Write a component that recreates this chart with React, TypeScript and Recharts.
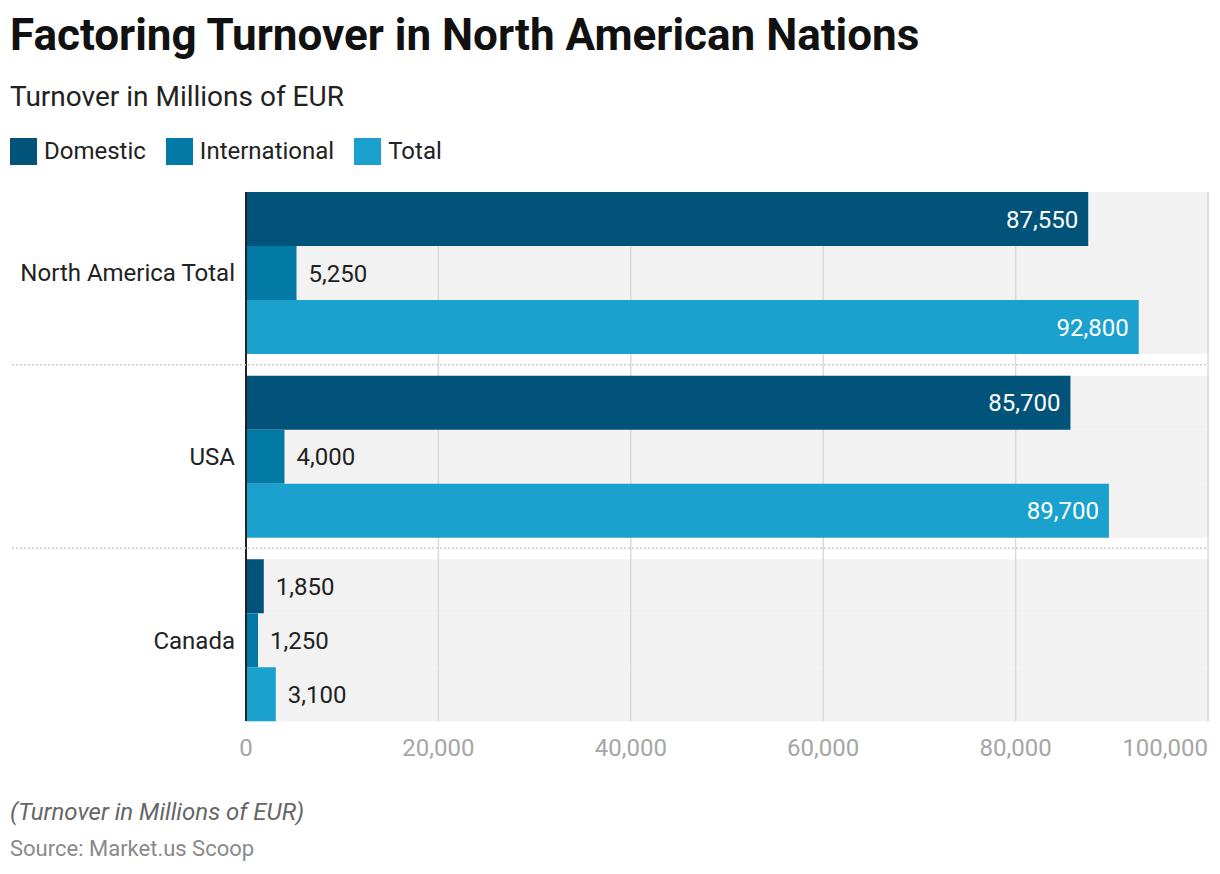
import React from "react";
import { BarChart, Bar, XAxis, YAxis, CartesianGrid, LabelList } from "recharts";

const categories = ["North America Total", "USA", "Canada"];
const domestic = [87550, 85700, 1850];
const international = [5250, 4000, 1250];
const total = [92800, 89700, 3100];
const xTicks = [0, 20000, 40000, 60000, 80000, 100000];
const X_MAX = 100000;

const seriesNames = ["Domestic", "International", "Total"];
const seriesKeys = ["domestic", "international", "total"];
const seriesColors = ["#02537a", "#0379a5", "#1aa1cd"];

const data = categories.map((name, i) => ({
  name,
  domestic: domestic[i],
  international: international[i],
  total: total[i],
}));

const FONT = "Roboto, 'Noto Sans', sans-serif";
const fmt = (v: number) => v.toLocaleString("en-US");

const renderBg = (props: any) => {
  const { x, y, width, height } = props;
  return (
    <g>
      <rect x={x} y={y} width={width} height={height} fill="#f2f2f2" />
      {xTicks.slice(1).map((t) => {
        const gx = x + (width * t) / X_MAX;
        return <line key={t} x1={gx} x2={gx} y1={y} y2={y + height} stroke="#dadada" strokeWidth={1.5} />;
      })}
    </g>
  );
};

const BarLabel = (props: any) => {
  const { x, y, width, height, value } = props;
  const inside = width > 120;
  return (
    <text
      x={inside ? x + width - 10 : x + width + 12}
      y={y + height / 2}
      dy="0.36em"
      textAnchor={inside ? "end" : "start"}
      fill={inside ? "#ffffff" : "#222222"}
      fontSize={24}
      fontFamily={FONT}
    >
      {fmt(value)}
    </text>
  );
};

const YTick = (props: any) => {
  const { x, y, payload, index } = props;
  const half = payload && payload.offset ? payload.offset : 0;
  return (
    <g>
      <text x={x - 3} y={y} dy="0.36em" textAnchor="end" fill="#222222" fontSize={24} fontFamily={FONT}>
        {payload.value}
      </text>
      {index < categories.length - 1 && (
        <line x1={12} x2={1208} y1={y + half} y2={y + half} stroke="#cccccc" strokeWidth={1.5} strokeDasharray="2 2" />
      )}
    </g>
  );
};

const XTick = (props: any) => {
  const { x, y, payload, index } = props;
  const last = index === xTicks.length - 1;
  const cx = payload && typeof payload.coordinate === "number" ? payload.coordinate : x;
  return (
    <text
      x={cx}
      y={y}
      dy="0.71em"
      textAnchor={last ? "end" : "middle"}
      fill="#a6a6a6"
      fontSize={24}
      fontFamily={FONT}
    >
      {fmt(payload.value)}
    </text>
  );
};

export default function App() {
  return (
    <div style={{ position: "absolute", left: 0, top: 0, width: 1220, height: 874, background: "#fff", fontFamily: FONT }}>
      <div style={{ position: "absolute", left: 10, top: 10, fontSize: 44, fontWeight: 700, color: "#111", lineHeight: "50px", whiteSpace: "nowrap" }}>
        Factoring Turnover in North American Nations
      </div>
      <div style={{ position: "absolute", left: 10, top: 81, fontSize: 28, color: "#222", lineHeight: "32px", whiteSpace: "nowrap" }}>
        Turnover in Millions of EUR
      </div>
      <div style={{ position: "absolute", left: 10, top: 137, display: "flex", alignItems: "center", height: 28 }}>
        {seriesNames.map((n, i) => (
          <div key={n} style={{ display: "flex", alignItems: "center", marginRight: 20 }}>
            <div style={{ width: 27, height: 27, background: seriesColors[i], marginRight: 7 }} />
            <span style={{ fontSize: 24, color: "#222", whiteSpace: "nowrap" }}>{n}</span>
          </div>
        ))}
      </div>
      <div style={{ position: "absolute", left: 0, top: 0 }}>
        <BarChart
          width={1220}
          height={780}
          data={data}
          layout="vertical"
          margin={{ top: 192, right: 12, bottom: 19, left: 0 }}
          barGap={0}
          barCategoryGap={0}
        >
          <CartesianGrid horizontal={false} vertical={true} stroke="#dadada" strokeWidth={1.5} />
          <XAxis
            type="number"
            domain={[0, X_MAX]}
            ticks={xTicks}
            axisLine={false}
            tickLine={false}
            height={40}
            tick={<XTick />}
            tickMargin={12}
          />
          <YAxis
            type="category"
            dataKey="name"
            width={246}
            padding={{ top: -11, bottom: -11 }}
            axisLine={{ stroke: "#222", strokeWidth: 2 }}
            tickLine={false}
            tick={<YTick />}
            interval={0}
          />
          {seriesKeys.map((k, i) => (
            <Bar key={k} dataKey={k} name={seriesNames[i]} fill={seriesColors[i]} barSize={54} isAnimationActive={false} background={renderBg}>
              <LabelList dataKey={k} content={<BarLabel />} />
            </Bar>
          ))}
        </BarChart>
      </div>
      <div style={{ position: "absolute", left: 10, top: 798, fontSize: 24, fontStyle: "italic", color: "#666", whiteSpace: "nowrap" }}>
        (Turnover in Millions of EUR)
      </div>
      <div style={{ position: "absolute", left: 10, top: 836, fontSize: 22, color: "#8a8a8a", whiteSpace: "nowrap" }}>
        Source: Market.us Scoop
      </div>
    </div>
  );
}
